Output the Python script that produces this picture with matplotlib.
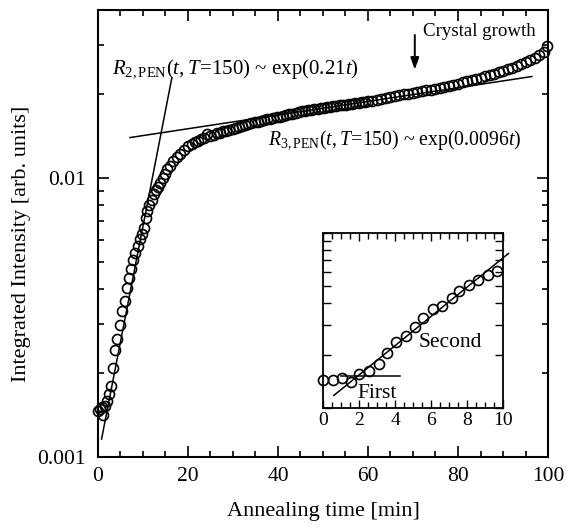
import matplotlib
matplotlib.use("Agg")
import matplotlib.pyplot as plt
from matplotlib.ticker import FixedLocator, LogLocator, MultipleLocator, NullFormatter, FixedFormatter

plt.rcParams["font.family"] = ["Liberation Serif", "DejaVu Serif"]
plt.rcParams["mathtext.fontset"] = "custom"
plt.rcParams["mathtext.rm"] = "Liberation Serif"
plt.rcParams["mathtext.it"] = "Liberation Serif:italic"

# main curve: annealing time [min] and integrated intensity [arb. units]
time_min = [
    0.0, 0.4, 0.8, 1.2, 1.6, 2.1, 2.5, 3.0, 3.4, 3.8, 4.3, 4.9, 5.4, 6.0, 6.5, 6.9,
    7.4, 7.8, 8.3, 8.8, 9.3, 9.7, 10.2, 10.6, 11.0, 11.4, 11.9, 12.4, 12.9, 13.4,
    13.8, 14.4, 14.9, 15.3, 16.0, 16.7, 17.6, 18.2, 19.1, 20.1, 20.8,
    21.5, 22.2, 22.9, 23.6, 24.3, 25.0, 25.7, 26.4, 27.1, 27.8, 28.5, 29.2, 29.9,
    30.6, 31.3, 32.0, 32.7, 33.4, 34.1, 34.8, 35.5, 36.2, 36.9, 37.6, 38.3, 39.0,
    39.7, 40.4, 41.1, 41.8, 42.5, 43.2, 43.9, 44.6, 45.3, 46.0, 46.7, 47.4, 48.1,
    48.8, 49.5, 50.2, 50.9, 51.6, 52.3, 53.0, 53.7, 54.4, 55.1, 55.8, 56.5, 57.2,
    57.9, 58.6, 59.3, 60.0, 61.0, 62.0, 63.0, 64.0, 65.0, 66.0, 67.0, 68.0, 69.0,
    70.0, 71.0, 72.0, 73.0, 74.0, 75.0, 76.0, 77.0, 78.0, 79.0, 80.0, 81.0, 82.0,
    83.0, 84.0, 85.0, 86.0, 87.0, 88.0, 89.0, 90.0, 91.0, 92.0, 93.0, 94.0, 95.0,
    96.0, 97.0, 98.0, 99.0, 99.8,
]
intensity = [
    0.00146, 0.00148, 0.00151, 0.00141, 0.00152, 0.00159, 0.00168, 0.00180, 0.00208,
    0.00242, 0.00264, 0.00297, 0.00334, 0.00363, 0.00403, 0.00438, 0.00470, 0.00510,
    0.00540, 0.00570, 0.00605, 0.00628, 0.00664, 0.00718, 0.00759, 0.00798, 0.00837,
    0.00873, 0.00902, 0.00928, 0.00962, 0.01003, 0.01037, 0.01076, 0.01105, 0.01153,
    0.01185, 0.01219, 0.01260, 0.01305, 0.01324,
    0.01345, 0.01362, 0.01380, 0.01392, 0.01432, 0.01410, 0.01428, 0.01445, 0.01452,
    0.01468, 0.01475, 0.01490, 0.01502, 0.01515, 0.01528, 0.01540, 0.01548, 0.01562,
    0.01570, 0.01583, 0.01590, 0.01602, 0.01610, 0.01622, 0.01630, 0.01640, 0.01652,
    0.01660, 0.01668, 0.01680, 0.01690, 0.01702, 0.01715, 0.01722, 0.01735, 0.01742,
    0.01748, 0.01755, 0.01760, 0.01768, 0.01775, 0.01780, 0.01790, 0.01795, 0.01805,
    0.01812, 0.01820, 0.01826, 0.01832, 0.01840, 0.01848, 0.01855, 0.01862, 0.01868,
    0.01876, 0.01885, 0.01895, 0.01910, 0.01925, 0.01938, 0.01950, 0.01968, 0.01982,
    0.01995, 0.02008, 0.02020, 0.02032, 0.02048, 0.02060, 0.02075, 0.02088, 0.02105,
    0.02122, 0.02140, 0.02160, 0.02180, 0.02200, 0.02222, 0.02245, 0.02268, 0.02290,
    0.02315, 0.02340, 0.02368, 0.02395, 0.02425, 0.02455, 0.02488, 0.02520, 0.02555,
    0.02595, 0.02640, 0.02690, 0.02760, 0.02830, 0.02960,
]

# fitted lines drawn on the main panel (end points)
r2_fit_t = [0.8, 16.4]
r2_fit_v = [0.00116, 0.0228]
r3_fit_t = [7.1, 96.4]
r3_fit_v = [0.01396, 0.0231]

# inset: first 10 minutes
inset_t = [0.0, 0.54, 1.04, 1.54, 2.0, 2.57, 3.13, 3.57, 4.06, 4.61, 5.1, 5.57,
           6.09, 6.6, 7.15, 7.57, 8.13, 8.63, 9.18, 9.68]
inset_v = [0.00145, 0.00145, 0.00149, 0.00141, 0.00156, 0.00162, 0.00179, 0.00205,
           0.00237, 0.00258, 0.00291, 0.00325, 0.00366, 0.00385, 0.00425, 0.00464,
           0.00502, 0.00541, 0.00577, 0.00608]
first_fit_t = [1.0, 4.3]
first_fit_v = [0.00152, 0.00152]
second_fit_t = [0.6, 10.3]
second_fit_v = [0.00118, 0.00764]

fig = plt.figure(figsize=(5.67, 5.29), dpi=100)
ax = fig.add_axes([0.1728, 0.1361, 0.7937, 0.845])

ax.plot(time_min, intensity, "o", mfc="none", mec="black", ms=7.2, mew=1.2, clip_on=False)
ax.plot(r2_fit_t, r2_fit_v, color="black", lw=1.1)
ax.plot(r3_fit_t, r3_fit_v, color="black", lw=1.1)

ax.set_yscale("log")
ax.set_xlim(0, 100)
ax.set_ylim(0.001, 0.04)
ax.xaxis.set_major_locator(MultipleLocator(20))
ax.xaxis.set_minor_locator(MultipleLocator(5))
ax.yaxis.set_major_locator(FixedLocator([0.001, 0.01]))
ax.yaxis.set_major_formatter(FixedFormatter(["0.001", "0.01"]))
ax.yaxis.set_minor_locator(LogLocator(base=10, subs=range(2, 10)))
ax.yaxis.set_minor_formatter(NullFormatter())
ax.tick_params(which="both", direction="in", top=True, right=True, labelsize=15.5, width=1.2)
ax.tick_params(which="major", length=8)
ax.tick_params(which="minor", length=4.5)
ax.tick_params(axis="x", pad=7)
ax.tick_params(axis="y", pad=9)
for spine in ax.spines.values():
    spine.set_linewidth(1.5)

ax.set_xlabel("Annealing time [min]", fontsize=16)
ax.set_ylabel("Integrated Intensity [arb. units]", fontsize=16)
ax.xaxis.set_label_coords(0.5, -0.1)
ax.yaxis.set_label_coords(-0.148, 0.477)

ax.text(3.1, 0.0244, r"$R_{\mathrm{2,PEN}}(t,T\!=\!150)$ ~ exp(0.21$t$)",
        fontsize=15, ha="left", va="center")
ax.text(37.8, 0.0136, r"$R_{\mathrm{3,PEN}}(t,T\!=\!150)$ ~ exp(0.0096$t$)",
        fontsize=14.2, ha="left", va="center")
ax.text(72.2, 0.0335, "Crystal growth", fontsize=13.6, ha="left", va="center")
ax.annotate("", xy=(70.4, 0.0239), xytext=(70.4, 0.0333),
            arrowprops=dict(arrowstyle="-|>,head_length=0.7,head_width=0.25", color="black", lw=1.4))

# inset
axin = fig.add_axes([0.5697, 0.2287, 0.3175, 0.3308])
axin.plot(inset_t, inset_v, "o", mfc="none", mec="black", ms=7.2, mew=1.2, clip_on=False)
axin.plot(first_fit_t, first_fit_v, color="black", lw=1.1)
axin.plot(second_fit_t, second_fit_v, color="black", lw=1.1, clip_on=False)
axin.set_yscale("log")
axin.set_xlim(0, 10)
axin.set_ylim(0.001, 0.01)
axin.xaxis.set_major_locator(MultipleLocator(2))
axin.xaxis.set_minor_locator(MultipleLocator(0.5))
axin.yaxis.set_major_locator(FixedLocator([0.001, 0.01]))
axin.yaxis.set_minor_locator(LogLocator(base=10, subs=range(2, 10)))
axin.yaxis.set_major_formatter(NullFormatter())
axin.yaxis.set_minor_formatter(NullFormatter())
axin.tick_params(which="both", direction="in", top=True, right=True, labelsize=14, width=1.0, pad=3)
axin.tick_params(which="major", length=6)
axin.tick_params(which="minor", length=4)
axin.tick_params(axis="y", which="minor", length=6)
for spine in axin.spines.values():
    spine.set_linewidth(1.3)
axin.text(3.0, 0.00121, "First", fontsize=15.5, ha="center", va="center")
axin.text(7.06, 0.00236, "Second", fontsize=15.5, ha="center", va="center")

fig.savefig("out.png", dpi=100)
